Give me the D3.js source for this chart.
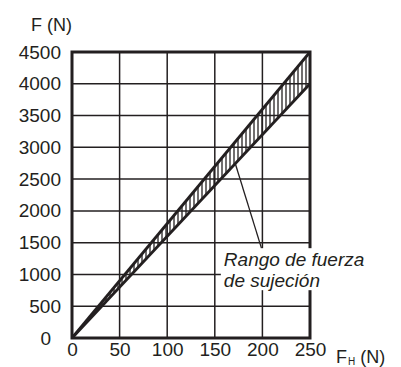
<!DOCTYPE html>
<html>
<head>
<meta charset="utf-8">
<script src="https://cdn.jsdelivr.net/npm/d3@7"></script>
<style>
  body { margin: 0; background: #fff; }
  text { font-family: "Liberation Sans", Arial, sans-serif; fill: #231f20; }
</style>
</head>
<body>
<div id="chart"></div>
<script>
const fhValues = [0, 250];
const upperForce = [0, 4500];
const lowerForce = [0, 4000];
const xTicks = [0, 50, 100, 150, 200, 250];
const yTicks = [0, 500, 1000, 1500, 2000, 2500, 3000, 3500, 4000, 4500];
const labelLines = ["Rango de fuerza", "de sujeción"];

const margin = { top: 52, right: 91, bottom: 29, left: 72 };
const width = 401 - margin.left - margin.right;
const height = 367 - margin.top - margin.bottom;
const ink = "#231f20";

const svg = d3
  .select("#chart")
  .append("svg")
  .attr("width", 401)
  .attr("height", 367);

const g = svg.append("g").attr("transform", `translate(${margin.left},${margin.top})`);

const x = d3.scaleLinear().domain([0, 250]).range([0, width]);
const y = d3.scaleLinear().domain([0, 4500]).range([height, 0]);

// hatch pattern
svg
  .append("defs")
  .append("pattern")
  .attr("id", "hatch")
  .attr("patternUnits", "userSpaceOnUse")
  .attr("width", 4)
  .attr("height", 4)
  .append("line")
  .attr("x1", 2)
  .attr("x2", 2)
  .attr("y1", 0)
  .attr("y2", 4)
  .attr("stroke", ink)
  .attr("stroke-width", 1.3);

// grid
g.append("g")
  .selectAll("line")
  .data(xTicks.slice(1, -1))
  .join("line")
  .attr("x1", (d) => x(d))
  .attr("x2", (d) => x(d))
  .attr("y1", 0)
  .attr("y2", height)
  .attr("stroke", ink)
  .attr("stroke-width", 1.5);

g.append("g")
  .selectAll("line")
  .data(yTicks.slice(1, -1))
  .join("line")
  .attr("x1", 0)
  .attr("x2", width)
  .attr("y1", (d) => y(d))
  .attr("y2", (d) => y(d))
  .attr("stroke", ink)
  .attr("stroke-width", 1.5);

// band
const band = fhValues.map((v, i) => ({ fh: v, lo: lowerForce[i], hi: upperForce[i] }));

g.append("path")
  .datum(band)
  .attr("fill", "url(#hatch)")
  .attr("d", d3.area().x((d) => x(d.fh)).y0((d) => y(d.lo)).y1((d) => y(d.hi)));

const line = (key) => d3.line().x((d) => x(d.fh)).y((d) => y(d[key]));
g.append("path").datum(band).attr("fill", "none").attr("stroke", ink).attr("stroke-width", 2.8).attr("d", line("hi"));
g.append("path").datum(band).attr("fill", "none").attr("stroke", ink).attr("stroke-width", 2.8).attr("d", line("lo"));

// frame
g.append("rect")
  .attr("width", width)
  .attr("height", height)
  .attr("fill", "none")
  .attr("stroke", ink)
  .attr("stroke-width", 3);

// label box + leader
const labelX = x(159.5);
const labelY = y(1130);
g.append("rect")
  .attr("x", labelX - 3)
  .attr("y", labelY - 18)
  .attr("width", 145)
  .attr("height", 42)
  .attr("fill", "#fff");

g.append("line")
  .attr("x1", x(171.5))
  .attr("y1", y(2745))
  .attr("x2", x(199))
  .attr("y2", labelY - 18)
  .attr("stroke", ink)
  .attr("stroke-width", 1.3);

g.append("g")
  .selectAll("text")
  .data(labelLines)
  .join("text")
  .attr("x", labelX)
  .attr("y", (d, i) => labelY + i * 21)
  .attr("font-size", 19)
  .attr("font-style", "italic")
  .text((d) => d);

// axes labels
const yAxis = d3.axisLeft(y).tickValues(yTicks).tickSize(0).tickPadding(11).tickFormat(d3.format("d"));
g.append("g")
  .call(yAxis)
  .call((s) => s.select(".domain").remove())
  .selectAll("text")
  .attr("font-size", 19)
  .attr("font-family", "Liberation Sans, Arial, sans-serif")
  .attr("fill", ink)
  .attr("dx", (d) => (d === 0 ? -10 : 0));

const xAxis = d3.axisBottom(x).tickValues(xTicks).tickSize(0).tickPadding(5).tickFormat(d3.format("d"));
g.append("g")
  .attr("transform", `translate(0,${height})`)
  .call(xAxis)
  .call((s) => s.select(".domain").remove())
  .selectAll("text")
  .attr("font-size", 19)
  .attr("font-family", "Liberation Sans, Arial, sans-serif")
  .attr("fill", ink);

svg.append("text").attr("x", 31).attr("y", 31).attr("font-size", 18).text("F (N)");

const xt = svg.append("text").attr("x", 336).attr("y", 363).attr("font-size", 18);
xt.append("tspan").text("F");
xt.append("tspan").attr("font-size", 10).attr("dy", 2).attr("dx", 1).text("H");
xt.append("tspan").attr("dy", -2).text(" (N)");
</script>
</body>
</html>
